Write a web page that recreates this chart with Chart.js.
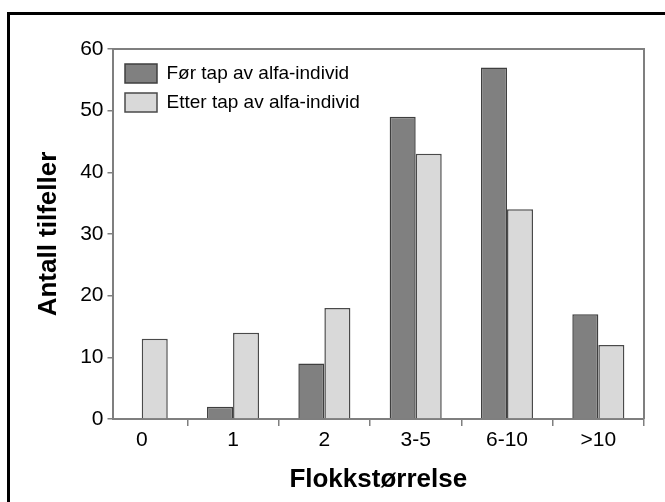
<!DOCTYPE html>
<html><head><meta charset="utf-8">
<script src="https://cdn.jsdelivr.net/npm/chart.js@4"></script>
<style>
html,body{margin:0;padding:0;background:#fff;}
#wrap{position:relative;width:665px;height:502px;overflow:hidden;}
#frame{position:absolute;left:7px;top:12px;width:700px;height:600px;border-left:3px solid #000;border-top:3px solid #000;}
canvas{position:absolute;left:0;top:0;}
</style></head><body>
<div id="wrap"><div id="frame"></div><canvas id="c" width="665" height="502"></canvas></div>
<script>
const categories = ['0', '1', '2', '3-5', '6-10', '>10'];
const forValues = [0, 2, 9, 49, 57, 17];
const etterValues = [13, 14, 18, 43, 34, 12];
const seriesNames = ['Før tap av alfa-individ', 'Etter tap av alfa-individ'];
const yMin = 0, yMax = 60, yStep = 10;
const xTitle = 'Flokkstørrelse';
const yTitle = 'Antall tilfeller';

const FONT = '"Liberation Sans", Arial, sans-serif';
const GRAY = '#7f7f7f';

const plotFrame = {
  id: 'plotFrame',
  afterLayout(chart) {
    const lg = chart.legend, a = chart.chartArea;
    if (lg) {
      const w = lg.width, h = lg.height;
      lg.left = a.left + 2.5; lg.top = a.top + 5;
      lg.right = lg.left + w; lg.bottom = lg.top + h;
    }
  },
  afterDatasetsDraw(chart) {
    const {ctx, chartArea: a} = chart;
    ctx.save();
    ctx.strokeStyle = GRAY;
    ctx.lineWidth = 2;
    ctx.beginPath();
    ctx.moveTo(a.left, a.top);
    ctx.lineTo(a.right, a.top);
    ctx.lineTo(a.right, a.bottom);
    ctx.stroke();
    ctx.restore();
  }
};

new Chart(document.getElementById('c'), {
  type: 'bar',
  data: {
    datasets: [
      { label: seriesNames[0], data: forValues.map((v, i) => ({x: i, y: v})),
        backgroundColor: '#808080', borderColor: '#3f3f3f', borderWidth: 1.5 },
      { label: seriesNames[1], data: etterValues.map((v, i) => ({x: i, y: v})),
        backgroundColor: '#d9d9d9', borderColor: '#4a4a4a', borderWidth: 1.5 }
    ]
  },
  options: {
    responsive: false,
    animation: false,
    devicePixelRatio: 1,
    categoryPercentage: 0.57,
    barPercentage: 1.0,
    layout: { padding: { left: 0, top: 49, right: 21, bottom: 0 } },
    plugins: {
      tooltip: { enabled: false },
      legend: {
        position: 'chartArea',
        align: 'start',
        labels: {
          boxWidth: 32, boxHeight: 19, padding: 10,
          color: '#000', font: { family: FONT, size: 19 },
          generateLabels(chart) {
            return chart.data.datasets.map((d, i) => ({
              text: d.label, fillStyle: d.backgroundColor, strokeStyle: d.borderColor,
              lineWidth: 1.5, hidden: false, datasetIndex: i, fontColor: '#000'
            }));
          }
        }
      }
    },
    scales: {
      x: {
        type: 'linear',
        offset: false,
        min: -0.32, max: 5.5,
        afterBuildTicks(scale) { scale.ticks = categories.map((c, i) => ({value: i})); },
        afterFit(scale) { scale.height = 83; },
        ticks: {
          autoSkip: false, maxRotation: 0, padding: 2,
          color: '#000', font: { family: FONT, size: 21 },
          callback: (v) => categories[Math.round(v)]
        },
        grid: { offset: true, drawOnChartArea: false, tickLength: 7, color: GRAY, lineWidth: 1.5 },
        border: { color: GRAY, width: 2 },
        title: { display: true, text: xTitle, color: '#000',
                 font: { family: FONT, size: 26, weight: 'bold' }, padding: { top: 0, bottom: 7 } }
      },
      y: {
        min: yMin, max: yMax,
        afterFit(scale) { scale.width = 112.5; },
        ticks: { stepSize: yStep, padding: 4, color: '#000', font: { family: FONT, size: 21 } },
        grid: { drawOnChartArea: false, tickLength: 5, color: GRAY, lineWidth: 1.5 },
        border: { color: GRAY, width: 2 },
        title: { display: true, text: yTitle, color: '#000',
                 font: { family: FONT, size: 26, weight: 'bold' }, padding: { top: 33, bottom: 0 } }
      }
    }
  },
  plugins: [plotFrame]
});
</script>
</body></html>
